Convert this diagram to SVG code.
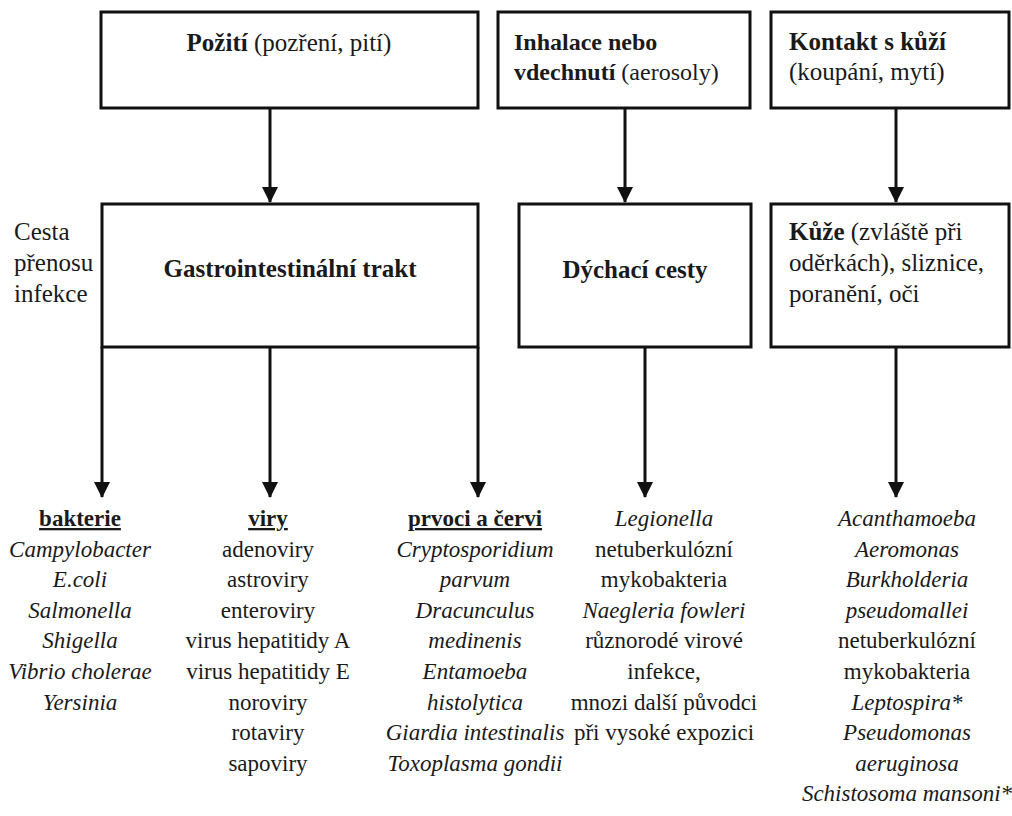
<svg xmlns="http://www.w3.org/2000/svg" width="1012" height="816" viewBox="0 0 1012 816">
<style>
.box{fill:#fff;stroke:#111;stroke-width:3}
.ln{stroke:#111;stroke-width:3;fill:none}
text{font-family:"Liberation Serif","Times New Roman",serif;fill:#1a1a1a}
.bt{font-size:25px}
.b{font-weight:bold}
.col{font-size:23px;text-anchor:middle}
.i{font-style:italic}
.u{font-weight:bold;text-decoration:underline}
</style>
<defs>
<marker id="ah" markerWidth="16" markerHeight="20" refX="15" refY="8" orient="auto" markerUnits="userSpaceOnUse">
<path d="M0,0 L16,8 L0,16 Z" fill="#111"/>
</marker>
</defs>
<rect width="1012" height="816" fill="#fff"/>
<g id="connectors">
<line class="ln" x1="270" y1="108" x2="270" y2="202" marker-end="url(#ah)"/>
<line class="ln" x1="625" y1="108" x2="625" y2="202" marker-end="url(#ah)"/>
<line class="ln" x1="896" y1="108" x2="896" y2="202" marker-end="url(#ah)"/>
<line class="ln" x1="102" y1="347" x2="102" y2="497" marker-end="url(#ah)"/>
<line class="ln" x1="270" y1="347" x2="270" y2="497" marker-end="url(#ah)"/>
<line class="ln" x1="478" y1="347" x2="478" y2="497" marker-end="url(#ah)"/>
<line class="ln" x1="645" y1="347" x2="645" y2="497" marker-end="url(#ah)"/>
<line class="ln" x1="896" y1="347" x2="896" y2="497" marker-end="url(#ah)"/>
</g>
<g id="pozit">
<rect class="box" x="101" y="12" width="377" height="96"/>
<text class="bt" x="289" y="51" text-anchor="middle"><tspan class="b">Požití</tspan> (pozření, pití)</text>
</g>
<g id="inhalace">
<rect class="box" x="498" y="12" width="252" height="96"/>
<text class="bt" x="514" y="50" style="font-size:24px"><tspan class="b">Inhalace nebo</tspan></text>
<text class="bt" x="514" y="80" style="font-size:24px"><tspan class="b">vdechnutí</tspan> (aerosoly)</text>
</g>
<g id="kontakt">
<rect class="box" x="771" y="12" width="238" height="96"/>
<text class="bt b" x="789" y="50">Kontakt s kůží</text>
<text class="bt" x="789" y="80">(koupání, mytí)</text>
</g>
<g id="cesta">
<text class="bt" x="14" y="240">Cesta</text>
<text class="bt" x="14" y="271">přenosu</text>
<text class="bt" x="14" y="302">infekce</text>
</g>
<g id="gi">
<rect class="box" x="102" y="204" width="376" height="143"/>
<text class="bt b" x="290" y="277" text-anchor="middle">Gastrointestinální trakt</text>
</g>
<g id="dychaci">
<rect class="box" x="519" y="204" width="232" height="143"/>
<text class="bt b" x="635" y="278" text-anchor="middle">Dýchací cesty</text>
</g>
<g id="kuze">
<rect class="box" x="771" y="204" width="238" height="143"/>
<text class="bt" x="789" y="240"><tspan class="b">Kůže</tspan> (zvláště při</text>
<text class="bt" x="789" y="271">oděrkách), sliznice,</text>
<text class="bt" x="789" y="302">poranění, oči</text>
</g>
<g id="bakterie">
<text class="col u" x="80" y="526">bakterie</text>
<text class="col i" x="80" y="556.6">Campylobacter</text>
<text class="col i" x="80" y="587.2">E.coli</text>
<text class="col i" x="80" y="617.8">Salmonella</text>
<text class="col i" x="80" y="648.4">Shigella</text>
<text class="col i" x="80" y="679">Vibrio cholerae</text>
<text class="col i" x="80" y="709.6">Yersinia</text>
</g>
<g id="viry">
<text class="col u" x="268" y="526">viry</text>
<text class="col" x="268" y="556.6">adenoviry</text>
<text class="col" x="268" y="587.2">astroviry</text>
<text class="col" x="268" y="617.8">enteroviry</text>
<text class="col" x="268" y="648.4">virus hepatitidy A</text>
<text class="col" x="268" y="679">virus hepatitidy E</text>
<text class="col" x="268" y="709.6">noroviry</text>
<text class="col" x="268" y="740.2">rotaviry</text>
<text class="col" x="268" y="770.8">sapoviry</text>
</g>
<g id="prvoci">
<text class="col u" x="475" y="526">prvoci a červi</text>
<text class="col i" x="475" y="556.6">Cryptosporidium</text>
<text class="col i" x="475" y="587.2">parvum</text>
<text class="col i" x="475" y="617.8">Dracunculus</text>
<text class="col i" x="475" y="648.4">medinenis</text>
<text class="col i" x="475" y="679">Entamoeba</text>
<text class="col i" x="475" y="709.6">histolytica</text>
<text class="col i" x="475" y="740.2">Giardia intestinalis</text>
<text class="col i" x="475" y="770.8">Toxoplasma gondii</text>
</g>
<g id="dychaci-list">
<text class="col i" x="664" y="526">Legionella</text>
<text class="col" x="664" y="556.6">netuberkulózní</text>
<text class="col" x="664" y="587.2">mykobakteria</text>
<text class="col i" x="664" y="617.8">Naegleria fowleri</text>
<text class="col" x="664" y="648.4">různorodé virové</text>
<text class="col" x="664" y="679">infekce,</text>
<text class="col" x="664" y="709.6">mnozi další původci</text>
<text class="col" x="664" y="740.2">při vysoké expozici</text>
</g>
<g id="kuze-list">
<text class="col i" x="907" y="526">Acanthamoeba</text>
<text class="col i" x="907" y="556.6">Aeromonas</text>
<text class="col i" x="907" y="587.2">Burkholderia</text>
<text class="col i" x="907" y="617.8">pseudomallei</text>
<text class="col" x="907" y="648.4">netuberkulózní</text>
<text class="col" x="907" y="679">mykobakteria</text>
<text class="col i" x="907" y="709.6">Leptospira*</text>
<text class="col i" x="907" y="740.2">Pseudomonas</text>
<text class="col i" x="907" y="770.8">aeruginosa</text>
<text class="col i" x="907" y="801.4">Schistosoma mansoni*</text>
</g>
</svg>
